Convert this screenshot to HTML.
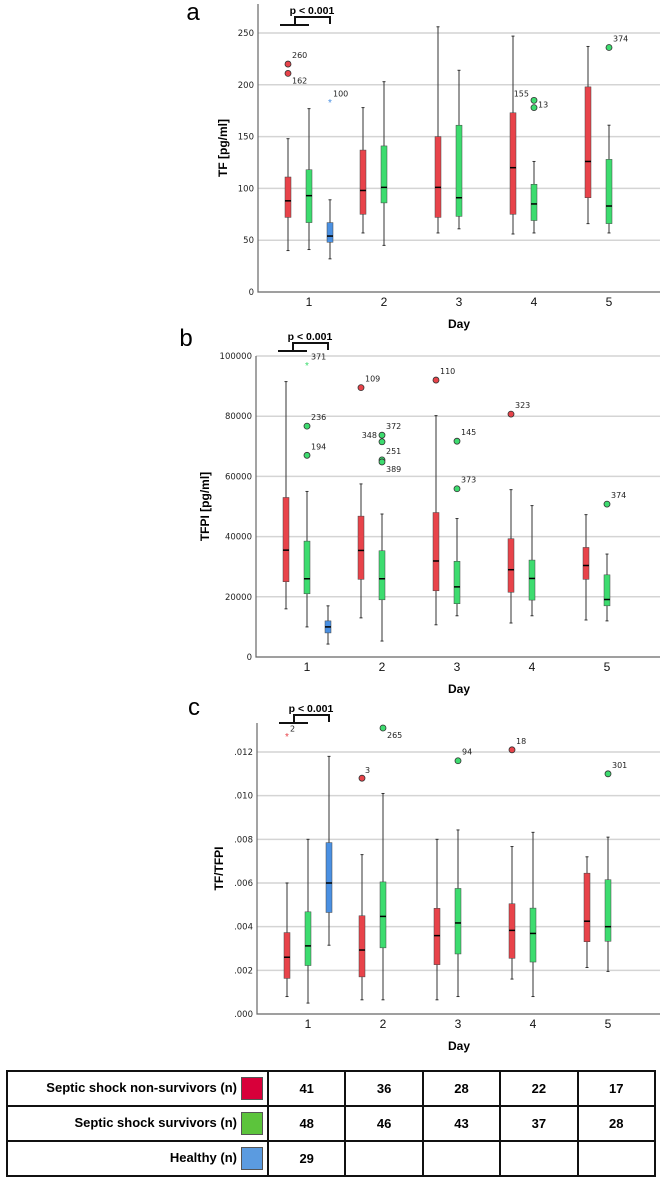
<!DOCTYPE html>
<html><head><meta charset="utf-8">
<style>
body{margin:0;background:#fff;width:666px;height:1181px;overflow:hidden;font-family:"Liberation Sans",sans-serif;}
svg{position:absolute;left:0;top:0}
table{position:absolute;left:6px;top:1070px;border-collapse:collapse;width:650px;height:105px}
td{border:2px solid #111;font-weight:bold;font-size:13px;text-align:center;height:33px;padding:0}
td.lab{text-align:right;width:255px;padding-right:4px}
.sw{display:inline-block;width:20px;height:21px;vertical-align:middle;margin-left:4px;border:1px solid #555}
</style></head><body>
<svg id="chart" width="666" height="1065" xmlns="http://www.w3.org/2000/svg"></svg>
<table>
<tr><td class="lab">Septic shock non-survivors (n)<span class="sw" style="background:#d8003a"></span></td><td>41</td><td>36</td><td>28</td><td>22</td><td>17</td></tr>
<tr><td class="lab">Septic shock survivors (n)<span class="sw" style="background:#5cc43c"></span></td><td>48</td><td>46</td><td>43</td><td>37</td><td>28</td></tr>
<tr><td class="lab">Healthy (n)<span class="sw" style="background:#5b9be0"></span></td><td>29</td><td></td><td></td><td></td><td></td></tr>
</table>
<script>
// Data: [min, q1, median, q3, max]
const days = ["1","2","3","4","5"];
const tfRed = [[40,72,88,111,148],[57,75,98,137,178],[57,72,101,150,256],[56,75,120,173,247],[66,91,126,198,237]];
const tfGreen = [[41,67,93,118,177],[45,86,101,141,203],[61,73,91,161,214],[57,69,85,104,126],[57,66,83,128,161]];
const tfBlue = [32,48,54,67,89];
const tfOut = [["r",0,220,"260",1],["r",0,211,"162",2],["b",0,183,"100",3],["g",3,185,"155",4],["g",3,178,"13",5],["g",4,236,"374",1]];
const tfTicks = [0,50,100,150,200,250];

const tfpiRed = [[16000,25000,35500,53000,91500],[13000,25800,35400,46800,57500],[10700,22000,31900,48000,80200],[11300,21500,29000,39300,55600],[12300,25800,30400,36400,47300]];
const tfpiGreen = [[10000,21000,26000,38500,55000],[5300,19000,26000,35300,47500],[13700,17700,23300,31800,46000],[13700,18900,26100,32200,50300],[12000,17000,19100,27300,34200]];
const tfpiBlue = [4300,8000,10000,12000,17000];
const tfpiOut = [["gs",0,96800,"371",1],["g",0,76700,"236",1],["g",0,67000,"194",1],["r",1,89500,"109",1],["g",1,73700,"372",1],["g",1,71500,"348",4],["g",1,65500,"251",1],["g",1,64800,"389",2],["r",2,92000,"110",1],["g",2,71700,"145",1],["g",2,55900,"373",1],["r",3,80700,"323",1],["g",4,50800,"374",1]];
const tfpiTicks = [0,20000,40000,60000,80000,100000];

const ratioRed = [[0.0008,0.00163,0.0026,0.00373,0.006],[0.00065,0.0017,0.00293,0.0045,0.0073],[0.00065,0.00226,0.00359,0.00484,0.008],[0.0016,0.00255,0.00383,0.00505,0.00767],[0.00213,0.00331,0.00425,0.00645,0.0072]];
const ratioGreen = [[0.0005,0.00222,0.00312,0.00468,0.008],[0.00065,0.00303,0.00447,0.00605,0.0101],[0.0008,0.00275,0.00417,0.00575,0.00843],[0.0008,0.00238,0.00369,0.00485,0.00832],[0.00195,0.00333,0.004,0.00615,0.0081]];
const ratioBlue = [0.00315,0.00465,0.006,0.00785,0.0118];
const ratioOut = [["rs",0,0.0127,"2",6],["r",1,0.0108,"3",6],["g",1,0.0131,"265",2],["g",2,0.0116,"94",1],["r",3,0.0121,"18",1],["g",4,0.011,"301",1]];
const ratioTicks = [0,0.002,0.004,0.006,0.008,0.010,0.012];
const ratioTickLabels = [".000",".002",".004",".006",".008",".010",".012"];

const NS="http://www.w3.org/2000/svg";
const svg=document.getElementById('chart');
function el(t,a,p){const e=document.createElementNS(NS,t);for(const k in a)e.setAttribute(k,a[k]);(p||svg).appendChild(e);return e;}
function txt(x,y,s,a,p){const e=el('text',Object.assign({x:x,y:y},a),p);e.textContent=s;return e;}
const COL={r:"#e8434a",g:"#3ddc6f",b:"#4a90e2"};

function panel(cfg){
  const g=el('g',{});
  
  
  const y=v=>cfg.y0-(v-cfg.vmin)/(cfg.vmax-cfg.vmin)*(cfg.y0-cfg.yTop);
  const x=i=>cfg.x1+i*75;
  cfg.ticks.forEach((t,i)=>{
    if(i>0){const l=el('line',{x1:cfg.left,x2:660,y1:y(t),y2:y(t),stroke:"#d4d4d4","stroke-width":1.5},g);
      }
    const tl=txt(cfg.left-4,y(t)+3,cfg.tickLabels?cfg.tickLabels[i]:String(t),{"font-size":8.5,"text-anchor":"end",fill:"#222","font-family":"DejaVu Sans, sans-serif"},g);
    
  });
  const ax=el('path',{d:`M${cfg.left} ${cfg.axTop} V${cfg.y0} H660`,stroke:"#666","stroke-width":1.2,fill:"none"},g);
  
  days.forEach((d,i)=>{const t=txt(x(i),cfg.y0+14,d,{"font-size":12,"text-anchor":"middle",fill:"#111"},g);
    });
  const dl=txt(459,cfg.y0+36,"Day",{"font-size":12,"font-weight":"bold","text-anchor":"middle"},g);
  
  const yt=txt(0,0,cfg.ytitle,{"font-size":12,"font-weight":"bold","text-anchor":"middle",transform:`translate(${cfg.ytx},${(cfg.y0+cfg.axTop)/2}) rotate(-90)`},g);
  
  const pl=txt(cfg.labx,cfg.laby,cfg.label,{"font-size":24,"text-anchor":"middle"},g);
  
  function box(cx,s,c,nm){
    const b=el('g',{},g);
    el('line',{x1:cx,x2:cx,y1:y(s[0]),y2:y(s[4]),stroke:"#333","stroke-width":1},b);
    el('line',{x1:cx-1.5,x2:cx+1.5,y1:y(s[0]),y2:y(s[0]),stroke:"#333","stroke-width":1},b);
    el('line',{x1:cx-1.5,x2:cx+1.5,y1:y(s[4]),y2:y(s[4]),stroke:"#333","stroke-width":1},b);
    el('rect',{x:cx-3,y:y(s[3]),width:6,height:y(s[1])-y(s[3]),fill:c,stroke:"#444","stroke-width":0.5},b);
    el('line',{x1:cx-3,x2:cx+3,y1:y(s[2]),y2:y(s[2]),stroke:"#000","stroke-width":1.5},b);
  }
  cfg.red.forEach((s,i)=>box(x(i)-21,s,COL.r,'box-nonsurvivors-day'+(i+1)));
  cfg.green.forEach((s,i)=>box(x(i),s,COL.g,'box-survivors-day'+(i+1)));
  box(x(0)+21,cfg.blue,COL.b,'box-healthy-day1');
  cfg.out.forEach(o=>{
    const k=o[0][0], star=o[0].length>1, off=k==='r'?-21:k==='b'?21:0;
    const cx=x(o[1])+off, cy=y(o[2]);
    if(star||k==='b'){const s=txt(cx,cy+3.5,"*",{"font-size":10,"text-anchor":"middle",fill:COL[k]},g);
      }
    else{const c=el('circle',{cx:cx,cy:cy,r:3,fill:COL[k],stroke:"#333","stroke-width":0.8},g);
      }
    const pos={1:[4,-6,'start'],2:[4,10,'start'],3:[3,-6,'start'],4:[-5,-4,'end'],5:[4,0,'start'],6:[3,-5,'start']}[o[4]];
    const t=txt(cx+pos[0],cy+pos[1],o[3],{"font-size":8,"text-anchor":pos[2],fill:"#222","font-family":"DejaVu Sans, sans-serif"},g);
    
  });
  const by=cfg.brY;
  const br=el('path',{d:`M${cfg.x1-29} ${by} H${cfg.x1} M${cfg.x1-14} ${by} V${by-8} H${cfg.x1+21} V${by-1}`,stroke:"#111","stroke-width":2,fill:"none"},g);
  
  const pt=txt(cfg.x1+3,by-11,"p < 0.001",{"font-size":10.5,"font-weight":"bold","text-anchor":"middle"},g);
  
}
panel({name:'panel-a-tf',label:'a',labx:193,laby:20,x1:309,left:258,y0:292,yTop:33,axTop:4,vmin:0,vmax:250,ticks:tfTicks,red:tfRed,green:tfGreen,blue:tfBlue,out:tfOut,ytitle:"TF [pg/ml]",ytx:227,brY:25});
panel({name:'panel-b-tfpi',label:'b',labx:186,laby:346,x1:307,left:256,y0:657,yTop:356,axTop:356,vmin:0,vmax:100000,ticks:tfpiTicks,red:tfpiRed,green:tfpiGreen,blue:tfpiBlue,out:tfpiOut,ytitle:"TFPI [pg/ml]",ytx:209,brY:351});
panel({name:'panel-c-ratio',label:'c',labx:194,laby:715,x1:308,left:257,y0:1014,yTop:752,axTop:723,vmin:0,vmax:0.012,ticks:ratioTicks,tickLabels:ratioTickLabels,red:ratioRed,green:ratioGreen,blue:ratioBlue,out:ratioOut,ytitle:"TF/TFPI",ytx:223,brY:723});
</script>
</body></html>
